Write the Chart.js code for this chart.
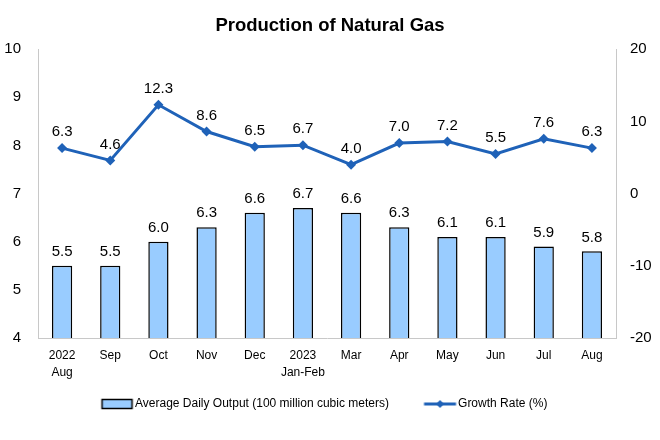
<!DOCTYPE html>
<html>
<head>
<meta charset="utf-8">
<script src="https://cdn.jsdelivr.net/npm/chart.js@4"></script>
<style>
  html, body { margin: 0; padding: 0; background: #fff; }
  .box { width: 660px; height: 440px; }
</style>
</head>
<body>
<div class="box"><canvas class="gas_chart"></canvas></div>
<script>
// data
let months = [["2022", "Aug"], "Sep", "Oct", "Nov", "Dec", ["2023", "Jan-Feb"], "Mar", "Apr", "May", "Jun", "Jul", "Aug"]
let daily_output = [5.5, 5.5, 6.0, 6.3, 6.6, 6.7, 6.6, 6.3, 6.1, 6.1, 5.9, 5.8]
let growth_rate = [6.3, 4.6, 12.3, 8.6, 6.5, 6.7, 4.0, 7.0, 7.2, 5.5, 7.6, 6.3]
let left_ticks = [4, 5, 6, 7, 8, 9, 10]
let right_ticks = [-20, -10, 0, 10, 20]

let bar_label = "Average Daily Output (100 million cubic meters)"
let line_label = "Growth Rate (%)"

let bar_fill = "#99CCFF"
let line_color = "#1F62B8"
let axis_color = "#C8C8C8"
let font_family = '"Liberation Sans", Arial, sans-serif'

// legend spacing worked out from the real text widths
let legend_size = 12
let legend_pad = 10
let measure = document.createElement("canvas").getContext("2d")
measure.font = legend_size + "px " + font_family
let t1 = measure.measureText(bar_label).width
let t2 = measure.measureText(line_label).width
let space_w = measure.measureText(" ").width
let hf = legend_size / 2
let text1_x = 135   // where the first legend text starts
let text_gap = 323  // distance between the two legend texts
let tail = Math.max(0, Math.round((660 - legend_pad - t1 - 2 * text1_x - t2) / space_w))
let legend_w = Math.max(2, text_gap - hf - t1 - legend_pad)

// legend symbol drawn into a canvas; a, b = visible span relative to the text start
function legend_image(a, b, draw) {
    let c = -hf - legend_w / 2
    let l = a - c, r = b - c
    let half = Math.ceil(Math.max(Math.abs(l), Math.abs(r))) + 2
    let img = document.createElement("canvas")
    img.width = half * 2
    img.height = 12
    let g = img.getContext("2d")
    draw(g, half + l, half + r, 6)
    return img
}

let bar_icon = legend_image(-33, -3, function (g, x0, x1, cy) {
    g.fillStyle = bar_fill
    g.fillRect(x0, cy - 4.5, x1 - x0, 9)
    g.strokeStyle = "#000"
    g.lineWidth = 1.5
    g.strokeRect(x0, cy - 4.5, x1 - x0, 9)
})

let line_icon = legend_image(-34, -2, function (g, x0, x1, cy) {
    g.strokeStyle = line_color
    g.lineWidth = 3
    g.beginPath()
    g.moveTo(x0, cy)
    g.lineTo(x1, cy)
    g.stroke()
    let mx = (x0 + x1) / 2
    g.fillStyle = line_color
    g.beginPath()
    g.moveTo(mx, cy - 4)
    g.lineTo(mx + 4, cy)
    g.lineTo(mx, cy + 4)
    g.lineTo(mx - 4, cy)
    g.closePath()
    g.fill()
})

// value labels above bars and points
let value_labels = {
    id: "value_labels",
    afterDatasetsDraw(chart) {
        let ctx = chart.ctx
        ctx.save()
        ctx.font = "15px " + font_family
        ctx.fillStyle = "#000"
        ctx.textAlign = "center"
        ctx.textBaseline = "middle"
        chart.data.datasets.forEach((ds, i) => {
            let meta = chart.getDatasetMeta(i)
            let off = ds.type === "line" ? 16 : 14
            meta.data.forEach((el, j) => {
                ctx.fillText(ds.data[j].toFixed(1), el.x, el.y - off)
            })
        })
        ctx.restore()
    }
}

let gas_chart = document.querySelector(".gas_chart")

new Chart(gas_chart, {
    data: {
        labels: months,
        datasets: [{
            type: "bar",
            label: bar_label,
            data: daily_output,
            yAxisID: "y",
            backgroundColor: bar_fill,
            borderColor: "#000",
            borderWidth: 1.5,
            categoryPercentage: 1,
            barPercentage: 0.42
        }, {
            type: "line",
            label: line_label,
            data: growth_rate,
            yAxisID: "y1",
            borderColor: line_color,
            backgroundColor: line_color,
            borderWidth: 3,
            pointStyle: "rectRot",
            pointRadius: 5,
            pointBorderWidth: 0,
            tension: 0
        }]
    },
    options: {
        responsive: true,
        maintainAspectRatio: false,
        animation: false,
        layout: { padding: { top: 0, right: 0, bottom: 20, left: 0 } },
        scales: {
            x: {
                grid: { display: false, drawTicks: false },
                border: { color: axis_color },
                ticks: {
                    color: "#000",
                    font: { family: font_family, size: 12, lineHeight: 1.4 },
                    padding: 9,
                    maxRotation: 0,
                    autoSkip: false
                },
                afterFit(scale) { scale.height = 50 }
            },
            y: {
                position: "left",
                min: 4,
                max: 10,
                grid: { display: false, drawTicks: false },
                border: { color: axis_color },
                afterBuildTicks(scale) { scale.ticks = left_ticks.map(v => ({ value: v })) },
                ticks: {
                    color: "#000",
                    font: { family: font_family, size: 15 },
                    padding: 17
                },
                afterFit(scale) { scale.width = 38 }
            },
            y1: {
                position: "right",
                min: -20,
                max: 20,
                grid: { display: false, drawTicks: false },
                border: { color: axis_color },
                afterBuildTicks(scale) { scale.ticks = right_ticks.map(v => ({ value: v })) },
                ticks: {
                    color: "#000",
                    font: { family: font_family, size: 15 },
                    padding: 14
                },
                afterFit(scale) { scale.width = 44 }
            }
        },
        plugins: {
            title: {
                display: true,
                text: "Production of Natural Gas",
                color: "#000",
                font: { family: font_family, size: 18.5, weight: "bold" },
                padding: { top: 15, bottom: 12 }
            },
            legend: {
                position: "bottom",
                labels: {
                    color: "#000",
                    font: { family: font_family, size: legend_size },
                    usePointStyle: true,
                    pointStyleWidth: legend_w,
                    padding: legend_pad,
                    generateLabels(chart) {
                        let items = Chart.defaults.plugins.legend.labels.generateLabels(chart)
                        items.forEach(it => {
                            if (it.datasetIndex === 0) {
                                it.pointStyle = bar_icon
                            } else {
                                it.pointStyle = line_icon
                                it.text = it.text + " ".repeat(tail)
                            }
                        })
                        return items
                    }
                }
            },
            tooltip: { enabled: false }
        }
    },
    plugins: [value_labels]
})
</script>
</body>
</html>
